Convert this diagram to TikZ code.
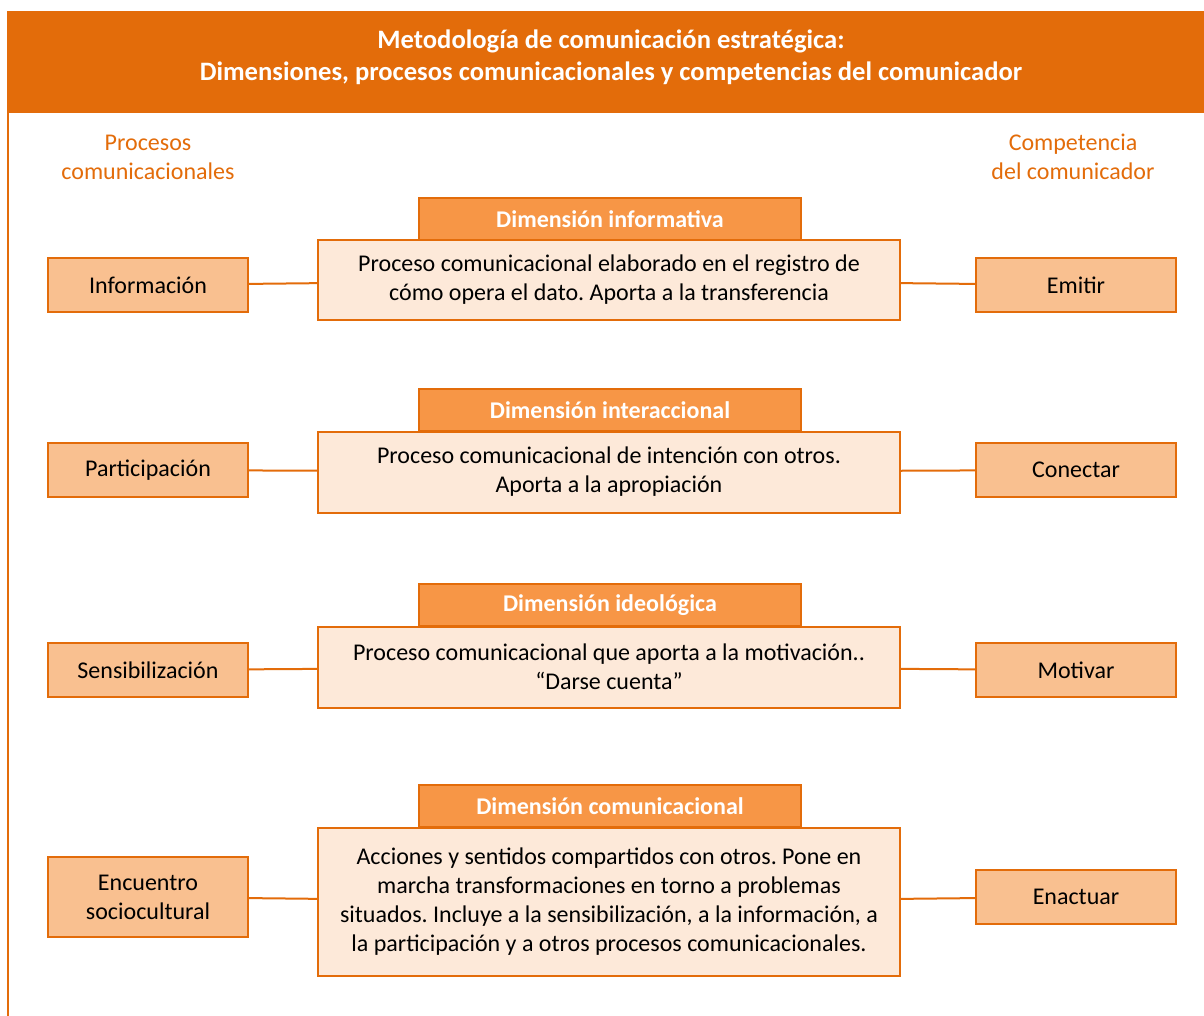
\documentclass[tikz,border=0pt]{standalone}
\usepackage{fontspec}
\setmainfont{Carlito}
\usepackage{tikz}
\usetikzlibrary{positioning}

\definecolor{naranja}{HTML}{E36C0A}
\definecolor{naranjamedio}{HTML}{F79646}
\definecolor{naranjaclaro}{HTML}{F9C090}
\definecolor{crema}{HTML}{FDE9D9}

\begin{document}
\frenchspacing
\begin{tikzpicture}[x=0.5pt, y=-0.5pt,
    texto/.style={font=\fontsize{12}{14.5}\selectfont},
    columna/.style={texto, text=naranja, align=center},
    lado/.style={texto, draw=naranja, line width=1pt, fill=naranjaclaro, align=center,
                 minimum width=100pt, minimum height=27pt, inner sep=2pt},
    dimtitulo/.style={draw=naranja, line width=1pt, fill=naranjamedio, text=white,
                 font=\fontsize{12}{14.5}\selectfont\bfseries,
                 minimum width=191pt, minimum height=21pt, inner sep=1pt},
    dimcaja/.style={texto, draw=naranja, line width=1pt, fill=crema, align=center,
                 minimum width=291pt, inner sep=2pt},
    enlace/.style={draw=naranja, line width=1pt}]
    \useasboundingbox (0,0) rectangle (1204,1016);

    % marco y encabezado
    \fill[naranja] (7,11) rectangle (1204,113);
    \draw[naranja, line width=1pt] (8,113) -- (8,1016);
    \node[text=white, align=center, font=\fontsize{13.3}{16}\selectfont\bfseries] at (611,57) (titulo)
        {Metodolog\'ia de comunicaci\'on estrat\'egica:\\
         Dimensiones, procesos comunicacionales y competencias del comunicador};

    \node[columna] at (148,157) (procesos) {Procesos\\comunicacionales};
    \node[columna] at (1073,157) (competencia) {Competencia\\del comunicador};

    % dimension informativa
    \node[dimtitulo] at (610,219) (t1) {Dimensi\'on informativa};
    \node[dimcaja, minimum height=40pt] at (609,280) (d1)
        {Proceso comunicacional elaborado en el registro de\\
         c\'omo opera el dato. Aporta a la transferencia};
    \node[lado] at (148,285) (informacion) {Informaci\'on};
    \node[lado] at (1076,285) (emitir) {Emitir};

    % dimension interaccional
    \node[dimtitulo] at (610,410) (t2) {Dimensi\'on interaccional};
    \node[dimcaja, minimum height=40.5pt] at (609,472) (d2)
        {Proceso comunicacional de intenci\'on con otros.\\
         Aporta a la apropiaci\'on};
    \node[lado] at (148,470) (participacion) {Participaci\'on};
    \node[lado] at (1076,470) (conectar) {Conectar};

    % dimension ideologica
    \node[dimtitulo] at (610,605) (t3) {Dimensi\'on ideol\'ogica};
    \node[dimcaja, minimum height=40.5pt] at (609,667) (d3)
        {Proceso comunicacional que aporta a la motivaci\'on..\\
         ``Darse cuenta''};
    \node[lado] at (148,670) (sensibilizacion) {Sensibilizaci\'on};
    \node[lado] at (1076,670) (motivar) {Motivar};

    % dimension comunicacional
    \node[dimtitulo] at (610,806) (t4) {Dimensi\'on comunicacional};
    \node[dimcaja, minimum height=74pt] at (609,902) (d4)
        {Acciones y sentidos compartidos con otros. Pone en\\
         marcha transformaciones en torno a problemas\\
         situados. Incluye a la sensibilizaci\'on, a la informaci\'on, a\\
         la participaci\'on y a otros procesos comunicacionales.};
    \node[lado, minimum height=40pt] at (148,897) (encuentro) {Encuentro\\sociocultural};
    \node[lado] at (1076,897) (enactuar) {Enactuar};

    \draw[enlace] (informacion) -- (d1);
    \draw[enlace] (d1) -- (emitir);
    \draw[enlace] (participacion) -- (d2);
    \draw[enlace] (d2) -- (conectar);
    \draw[enlace] (sensibilizacion) -- (d3);
    \draw[enlace] (d3) -- (motivar);
    \draw[enlace] (encuentro) -- (d4);
    \draw[enlace] (d4) -- (enactuar);
\end{tikzpicture}
\end{document}
